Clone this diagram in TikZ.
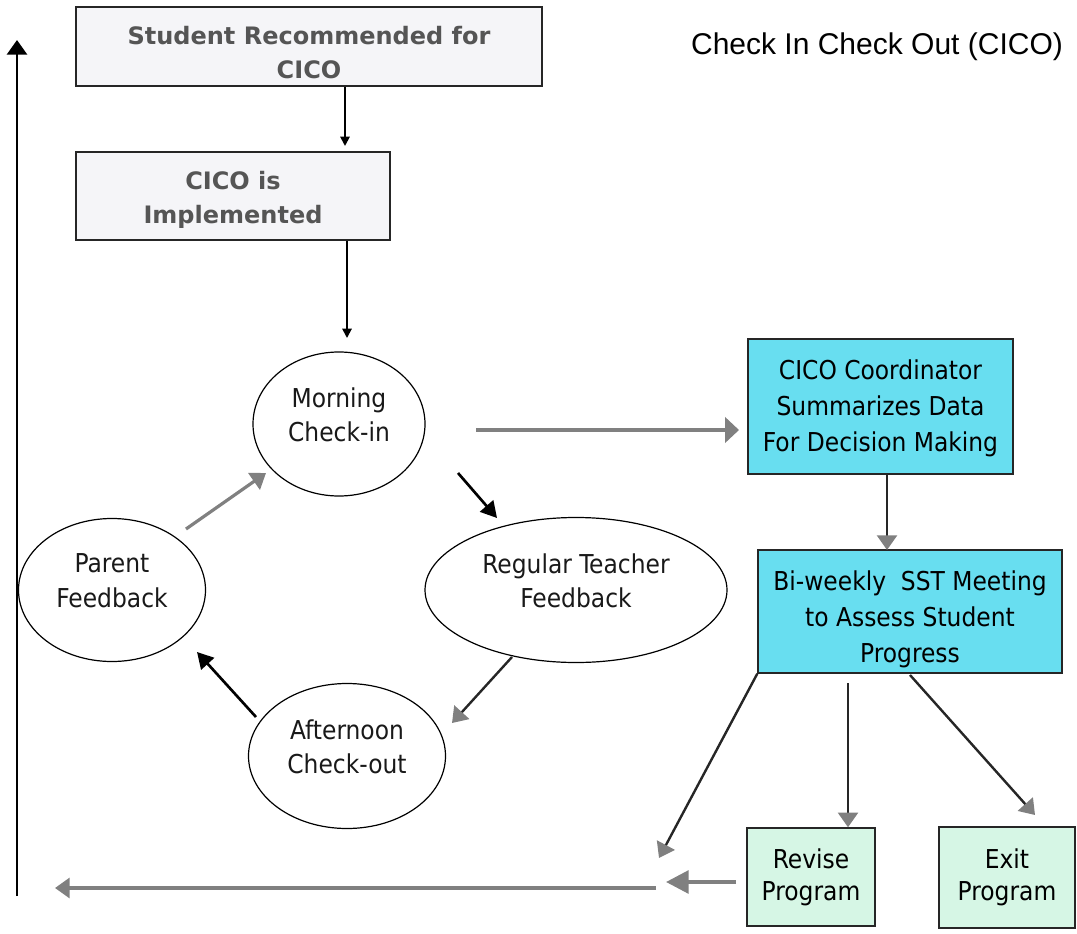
\documentclass[tikz,border=0pt]{standalone}
\usepackage{fontspec}
\setmainfont{DejaVu Sans}
\newfontfamily\condfont{DejaVu Sans Condensed}
\newfontfamily\headfont{Liberation Sans}
\usetikzlibrary{arrows.meta,shapes.geometric}

\definecolor{cicocyan}{RGB}{104,222,240}
\definecolor{cicogreen}{RGB}{214,246,229}
\definecolor{cicogray}{RGB}{128,128,128}
\definecolor{headtext}{RGB}{85,85,85}
\definecolor{paleface}{RGB}{245,245,248}

% invisible struts that nudge a text block up (deeper last line) or down (taller first line)
\newcommand\deepline[1]{\rule[-#1]{0pt}{0pt}}
\newcommand\tallline[1]{\rule{0pt}{#1}}

\begin{document}
\begin{tikzpicture}[x=0.75pt,y=-0.75pt,
  boxdim/.style 2 args={minimum width=#1*0.75pt, minimum height=#2*0.75pt},
  framed/.style={draw=black!85, line width=1.1pt, inner sep=0pt},
  heading/.style={font=\fontsize{18}{25.5}\selectfont\bfseries, text=headtext, align=center, inner sep=0pt},
  palebox/.style={framed, fill=paleface},
  stage/.style={ellipse, draw=black, line width=0.9pt, inner sep=0pt,
    font=\condfont\fontsize{19.5}{26}\selectfont, text=black!90, align=center},
  cyanbox/.style={framed, fill=cicocyan, font=\condfont\fontsize{19.5}{27}\selectfont, align=center},
  greenbox/.style={framed, fill=cicogreen, font=\condfont\fontsize{19.5}{24}\selectfont, align=center},
  caption/.style={font=\headfont\fontsize{22.5}{26}\selectfont, inner sep=0pt},
  thinarrow/.style={draw=black, line width=1.4pt, -{Triangle[length=7pt,width=7pt]}},
  blackarrow/.style={draw=black, line width=2pt, -{Triangle[length=12pt,width=13pt]}},
  grayarrow/.style={draw=cicogray, line width=2.4pt, -{Triangle[length=11pt,width=15pt]}},
  mixedarrow/.style={draw=black!85, line width=1.8pt, -{Triangle[length=11pt,width=15pt,color=cicogray,fill=cicogray]}},
  railarrow/.style={draw=black, line width=2.2pt, -{Triangle[length=11pt,width=15pt]}}
]
\useasboundingbox (0,0) rectangle (1077,934);

% --- boxes and stages ---
\node[palebox, boxdim={466}{79}] (recommend) at (309,46.5) {};
\node[heading] (recommendtext) at (309,53) {Student Recommended for\\CICO};
\node[palebox, heading, boxdim={314}{88}] (implement) at (233,196) {\tallline{19pt}CICO is\\Implemented};

\node[stage, boxdim={172}{144}] (morning) at (339,424) {Morning\\Check-in\deepline{14pt}};
\node[stage, boxdim={302}{145}] (teacher) at (576,590) {Regular Teacher\\Feedback\deepline{14pt}};
\node[stage, boxdim={187}{143}] (parent) at (112,590) {Parent\\Feedback\deepline{14pt}};
\node[stage, boxdim={197}{145}] (afternoon) at (347,756) {Afternoon\\Check-out\deepline{14pt}};

\node[cyanbox, boxdim={265}{135}] (coordinator) at (880.5,406.5) {\tallline{17pt}CICO Coordinator\\Summarizes Data\\For Decision Making};
\node[cyanbox, boxdim={304}{123}] (meeting) at (910,611.5) {\tallline{26pt}Bi-weekly\ \ SST Meeting\\to Assess Student\\Progress};
\node[greenbox, boxdim={128}{98}] (revise) at (811,877) {Revise\\Program};
\node[greenbox, boxdim={136}{101}] (exit) at (1007,877.5) {Exit\\Program};

\node[caption] (title) at (877,47) {Check In Check Out (CICO)};

% --- free ends of the connectors ---
\coordinate (implementin) at (345,146);
\coordinate (morningin) at (347,338);
\coordinate (parentout) at (186,529);
\coordinate (morningback) at (266,473);
\coordinate (morningout) at (458,473);
\coordinate (teacherin) at (497,518);
\coordinate (teacherout) at (512,657);
\coordinate (afternoonin) at (452,723);
\coordinate (afternoonout) at (256,717);
\coordinate (parentin) at (197,652);
\coordinate (datafrom) at (476,430);
\coordinate (datato) at (739,430);
\coordinate (meetingin) at (887,550);
\coordinate (returnin) at (659,858);
\coordinate (reviseout) at (848,683);
\coordinate (exitfrom) at (910,675);
\coordinate (exitin) at (1035,815);
\coordinate (revisefrom) at (736,882);
\coordinate (reviseto) at (666,882);
\coordinate (loopfrom) at (656,888);
\coordinate (loopto) at (55,888);
\coordinate (railbottom) at (17,896);
\coordinate (railtop) at (17,40);

% --- connectors ---
\draw[thinarrow] (recommend.south -| implementin) -- (implementin);
\draw[thinarrow] (implement.south -| morningin) -- (morningin);

\draw[grayarrow] (parentout) -- (morningback);
\draw[blackarrow] (morningout) -- (teacherin);
\draw[mixedarrow] (teacherout) -- (afternoonin);
\draw[blackarrow] (afternoonout) -- (parentin);

\draw[draw=cicogray, line width=2.6pt, -{Triangle[length=10.5pt,width=19pt]}] (datafrom) -- (datato);
\draw[mixedarrow] (coordinator.south -| meetingin) -- (meetingin);

\draw[mixedarrow] (meeting.south west) -- (returnin);
\draw[mixedarrow] (reviseout) -- (revise.north -| reviseout);
\draw[mixedarrow] (exitfrom) -- (exitin);

\draw[draw=cicogray, line width=3pt, -{Triangle[length=17pt,width=17pt]}] (revisefrom) -- (reviseto);
\draw[grayarrow] (loopfrom) -- (loopto);
\draw[railarrow] (railbottom) -- (railtop);
\end{tikzpicture}
\end{document}
